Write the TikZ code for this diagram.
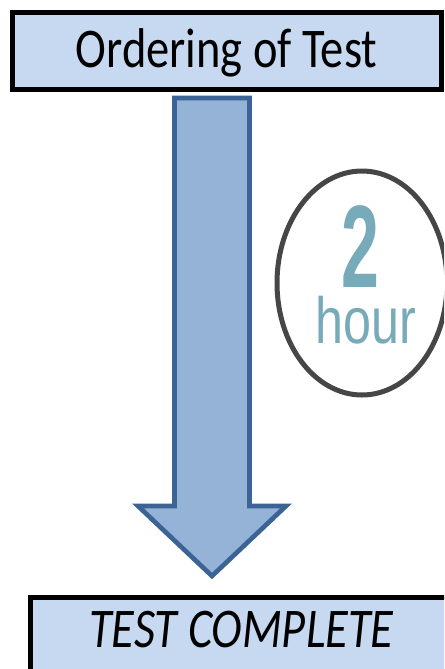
\documentclass[tikz,border=0pt]{standalone}
\usepackage{fontspec}
\setmainfont{Carlito}
\newfontfamily\dialfont{Liberation Sans}
\usetikzlibrary{shapes.geometric,positioning}
\definecolor{boxblue}{HTML}{C6D9F1}
\definecolor{arrowfill}{HTML}{95B3D7}
\definecolor{arrowline}{HTML}{3B6396}
\definecolor{dialgray}{HTML}{464646}
\definecolor{dialteal}{HTML}{78ABB9}
\tikzset{
    stagebox/.style={draw=black, line width=3.75pt, fill=boxblue, inner sep=0pt},
    stagetext/.style={font=\fontsize{42}{50}\selectfont, inner sep=0pt}
}

\begin{document}
\begin{tikzpicture}[x=0.75pt, y=-0.75pt]
    \useasboundingbox (0,0) rectangle (444,669);
    \clip (0,0) rectangle (444,669);

    % Top box
    \node[stagebox, minimum width=322pt, minimum height=58pt] (order) at (226.75,51.25) {};
    \node[stagetext, anchor=base] (ordertext) at (226.5,67) {\scalebox{0.83}[1]{Ordering of Test}};

    % Bottom box (runs off the page)
    \node[stagebox, minimum width=330pt, minimum height=70pt, anchor=north west] (done) at (28,594.5) {};
    \node[stagetext, anchor=base] (donetext) at (241.5,647) {\scalebox{0.83}[1]{\itshape TEST COMPLETE}};

    % Block arrow between the boxes
    \coordinate (shafttop) at (212,98);
    \coordinate (tip) at (212,576);
    \draw[arrowline, fill=arrowfill, line width=3.5pt, line join=miter]
        (174.5,98) -- (249.5,98) -- (249.5,506) -- (286,506)
        -- (tip) -- (138,506) -- (174.5,506) -- cycle;

    % Time dial
    \coordinate (dial) at (362,283);
    \draw[dialgray, line width=3.75pt] (dial) ellipse [x radius=63.75pt, y radius=84pt];
    \node[anchor=base, inner sep=0pt, text=dialteal] (hours) at (360,287)
        {\scalebox{0.58}[1]{\dialfont\bfseries\fontsize{88}{90}\selectfont 2}};
    \node[anchor=base, inner sep=0pt, text=dialteal] (unit) at (366,343)
        {\scalebox{0.77}[1]{\dialfont\fontsize{49}{55}\selectfont hour}};

\end{tikzpicture}
\end{document}
